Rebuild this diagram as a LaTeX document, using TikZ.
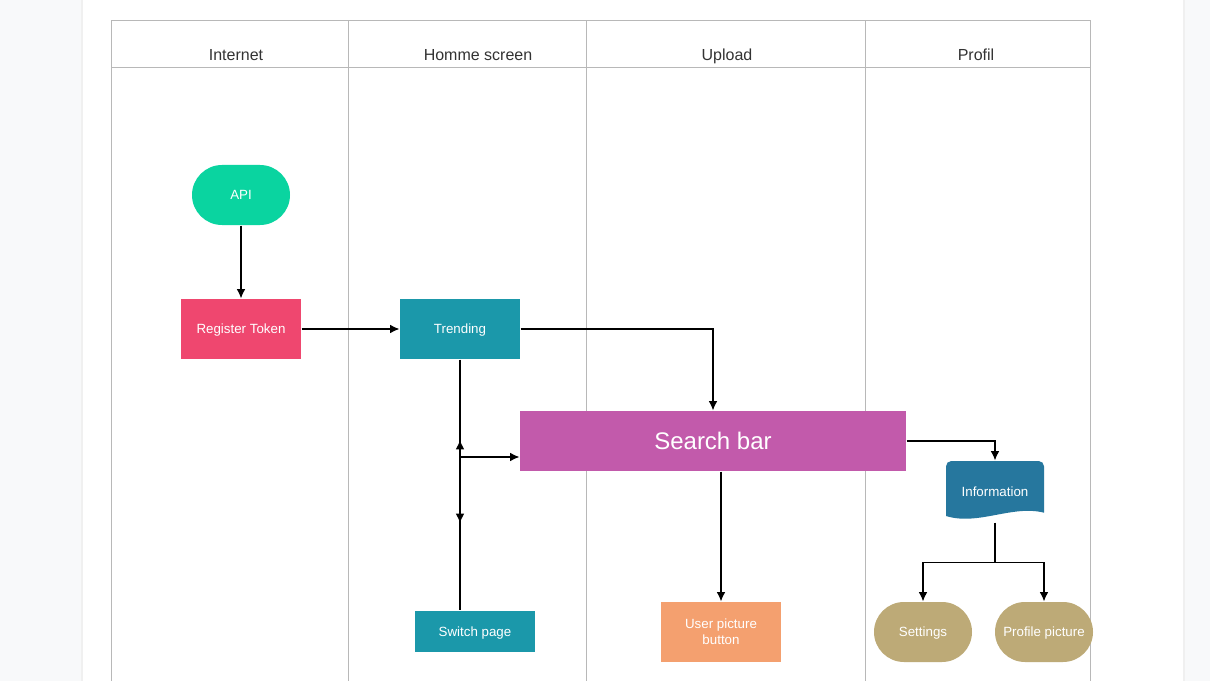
\documentclass[tikz,border=0pt]{standalone}
\usepackage{fontspec}
\setmainfont{Liberation Sans}
\usetikzlibrary{arrows.meta}
\definecolor{pagegrey}{HTML}{F8F9FA}
\definecolor{lanegrey}{HTML}{B8B8B8}
\definecolor{apigreen}{HTML}{0AD4A0}
\definecolor{tokenred}{HTML}{EF476F}
\definecolor{trendteal}{HTML}{1B98AA}
\definecolor{searchpink}{HTML}{C25AAB}
\definecolor{infoblue}{HTML}{26779E}
\definecolor{userorange}{HTML}{F4A06F}
\definecolor{profsand}{HTML}{BDAA77}
\begin{document}
\begin{tikzpicture}[
                x=0.75pt, y=-0.75pt,
                >={Latex[length=7pt,width=6.5pt]},
                line width=0.9pt,
                font=\fontsize{10pt}{12pt}\selectfont,
                % Stile per le corsie
                lane/.style={draw=lanegrey, line width=0.75pt},
                lanetitle/.style={font=\fontsize{12pt}{14pt}\selectfont, text=black!80, text depth=0pt},
                % Blocchi rettangolari
                block/.style={
                    rectangle,
                    inner sep=0pt,
                    minimum width=90pt,
                    minimum height=45pt,
                    text=white,
                    text depth=0pt,
                    align=center
                },
                % Terminali (forma ovale)
                term/.style={
                    block,
                    rounded corners=22.5pt,
                    minimum width=73.5pt
                },
                % Documento con bordo ondulato
                docshape/.style={
                    block,
                    minimum width=73.5pt,
                    minimum height=45.75pt,
                    path picture={
                        \fill[infoblue]
                            ([yshift=4.5pt]path picture bounding box.south west)
                            -- ([yshift=-4pt]path picture bounding box.north west)
                            arc[start angle=180, end angle=90, radius=4pt]
                            -- ([xshift=-4pt]path picture bounding box.north east)
                            arc[start angle=90, end angle=0, radius=4pt]
                            -- ([yshift=7pt]path picture bounding box.south east)
                            .. controls ([xshift=-24pt, yshift=13pt]path picture bounding box.south east)
                            and ([xshift=24pt, yshift=-3pt]path picture bounding box.south west)
                            .. ([yshift=4.5pt]path picture bounding box.south west)
                            -- cycle;
                    }
                }
            ]

                % ========================================================
                % 1. Sfondo e pagina
                % ========================================================
                \useasboundingbox (0,0) rectangle (1210,681);
                \fill[pagegrey] (0,0) rectangle (1210,681);
                \fill[white, draw=black!6] (82,-2) rectangle (1184,690);

                % ========================================================
                % 2. Corsie (pool)
                % ========================================================
                \draw[lane] (111,681) -- (111,21) -- (1090,21) -- (1090,681);
                \draw[lane] (111,68) -- (1090,68);
                \foreach \x in {348,586,865}
                    \draw[lane] (\x,21) -- (\x,681);

                \node[lanetitle] (t_internet) at (236,54.5) {Internet};
                \node[lanetitle] (t_home) at (478,54.5) {Homme screen};
                \node[lanetitle] (t_upload) at (727,54.5) {Upload};
                \node[lanetitle] (t_profil) at (976,54.5) {Profil};

                % ========================================================
                % 3. Blocchi
                % ========================================================
                \node[term, fill=apigreen] (api) at (241,195) {API};
                \node[block, fill=tokenred] (regtok) at (241,329) {Register Token};
                \node[block, fill=trendteal] (trend) at (460,329) {Trending};
                \node[block, fill=searchpink, minimum width=289.5pt,
                      font=\fontsize{18pt}{21pt}\selectfont] (search) at (713,441) {Search bar};
                \node[docshape] (info) at (995,491.5) {Information};
                \node[block, fill=trendteal, minimum height=30.75pt] (swpage) at (475,631.5) {Switch page};
                \node[block, fill=userorange] (upbtn) at (721,632) {User picture\\button};
                \node[term, fill=profsand] (settings) at (923,632) {Settings};
                \node[term, fill=profsand] (profpic) at (1044,632) {Profile picture};

                % ========================================================
                % 4. Collegamenti
                % ========================================================
                \draw[->] (api) -- (regtok);
                \draw[->] (regtok) -- (trend);
                \draw[->] (trend) -| (search);

                % Diramazione tra Trending e Switch page
                \coordinate (split) at ([yshift=-12pt]trend |- search);
                \draw (trend) -- (trend |- swpage.north);
                \draw[->] (split) -- ++(0,-17);
                \draw[->] (split) -- ++(0,66);
                \draw[->] (split) -- (split -| search.west);

                \draw[->] (search.south -| upbtn) -- (upbtn);
                \draw[->] (search.east) -| (info);

                % Informazioni verso Settings e Profile picture
                \coordinate (fork) at ([yshift=-30pt]info.south);
                \draw (info) -- (fork);
                \draw[->] (fork) -| (settings);
                \draw[->] (fork) -| (profpic);

            \end{tikzpicture}
\end{document}
